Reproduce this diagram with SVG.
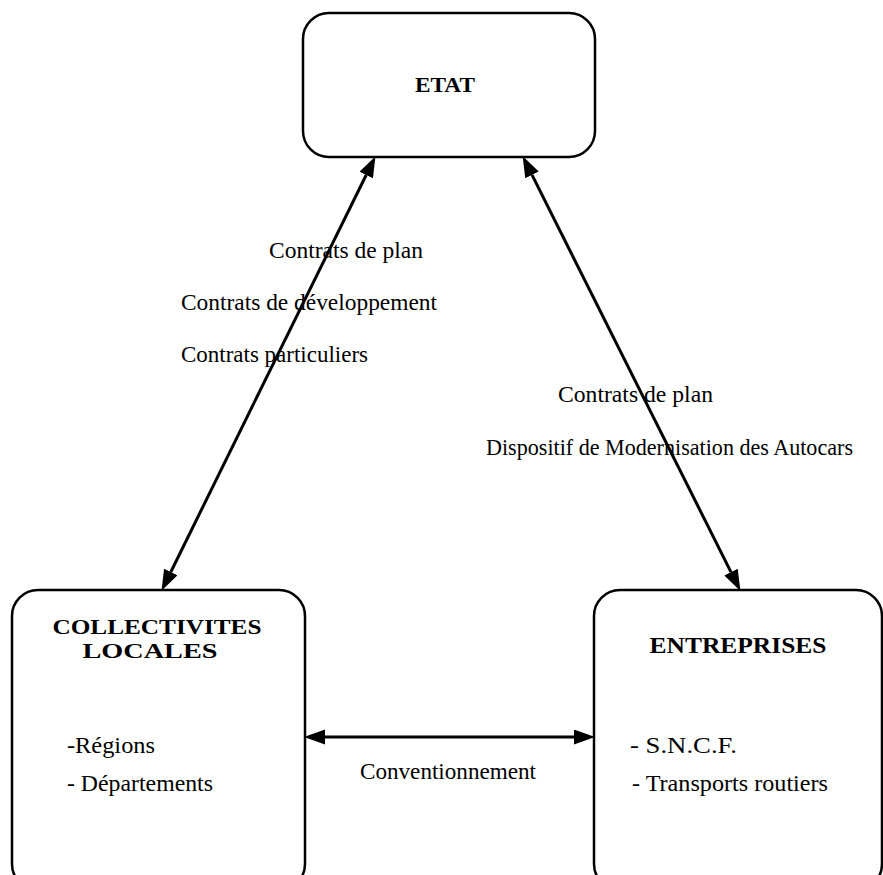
<svg xmlns="http://www.w3.org/2000/svg" width="883" height="875" viewBox="0 0 883 875">
<style>
.box{fill:none;stroke:#000;stroke-width:2.5}
.conn{stroke:#000;stroke-width:3;fill:none}
.h{font-family:"Liberation Serif","Times New Roman",serif;font-weight:bold;fill:#000}
.t{font-family:"Liberation Serif","Times New Roman",serif;font-size:23px;fill:#000}
</style>
<defs>
<marker id="ah" markerUnits="userSpaceOnUse" markerWidth="22" markerHeight="16" refX="0" refY="7.5" orient="auto-start-reverse">
<path d="M0,0 L21,7.5 L0,15 z" fill="#000"/>
</marker>
</defs>
<rect width="883" height="875" fill="#fff"/>
<g id="connectors">
<line class="conn" x1="366.2" y1="175" x2="170.8" y2="572" marker-start="url(#ah)" marker-end="url(#ah)"/>
<line class="conn" x1="532" y1="174.9" x2="731" y2="572.1" marker-start="url(#ah)" marker-end="url(#ah)"/>
<line class="conn" x1="325" y1="737" x2="574" y2="737" marker-start="url(#ah)" marker-end="url(#ah)"/>
</g>
<g id="etat">
<rect class="box" x="303" y="13" width="292" height="144" rx="26" ry="26"/>
<text class="h" x="445" y="92" font-size="22" text-anchor="middle" textLength="60" lengthAdjust="spacingAndGlyphs">ETAT</text>
</g>
<g id="collectivites">
<rect class="box" x="12" y="590" width="293" height="300" rx="26" ry="26"/>
<text class="h" x="157" y="634" font-size="21" text-anchor="middle" textLength="209" lengthAdjust="spacingAndGlyphs">COLLECTIVITES</text>
<text class="h" x="150" y="658" font-size="21" text-anchor="middle" textLength="135" lengthAdjust="spacingAndGlyphs">LOCALES</text>
<text class="t" x="67" y="753" textLength="88" lengthAdjust="spacingAndGlyphs">-Régions</text>
<text class="t" x="67" y="791" textLength="146" lengthAdjust="spacingAndGlyphs">- Départements</text>
</g>
<g id="entreprises">
<rect class="box" x="594" y="590" width="288" height="300" rx="26" ry="26"/>
<text class="h" x="738" y="653" font-size="23" text-anchor="middle" textLength="177" lengthAdjust="spacingAndGlyphs">ENTREPRISES</text>
<text class="t" x="630" y="753" textLength="107" lengthAdjust="spacingAndGlyphs">-  S.N.C.F.</text>
<text class="t" x="632" y="791" textLength="196" lengthAdjust="spacingAndGlyphs">- Transports routiers</text>
</g>
<g id="labels">
<text class="t" x="269" y="258" textLength="154" lengthAdjust="spacingAndGlyphs">Contrats de plan</text>
<text class="t" x="181" y="310" textLength="256" lengthAdjust="spacingAndGlyphs">Contrats de développement</text>
<text class="t" x="181" y="362" textLength="187" lengthAdjust="spacingAndGlyphs">Contrats particuliers</text>
<text class="t" x="558" y="402" textLength="155" lengthAdjust="spacingAndGlyphs">Contrats de plan</text>
<text class="t" x="486" y="455" textLength="367" lengthAdjust="spacingAndGlyphs">Dispositif de Modernisation des Autocars</text>
<text class="t" x="360" y="779" textLength="176" lengthAdjust="spacingAndGlyphs">Conventionnement</text>
</g>
</svg>
